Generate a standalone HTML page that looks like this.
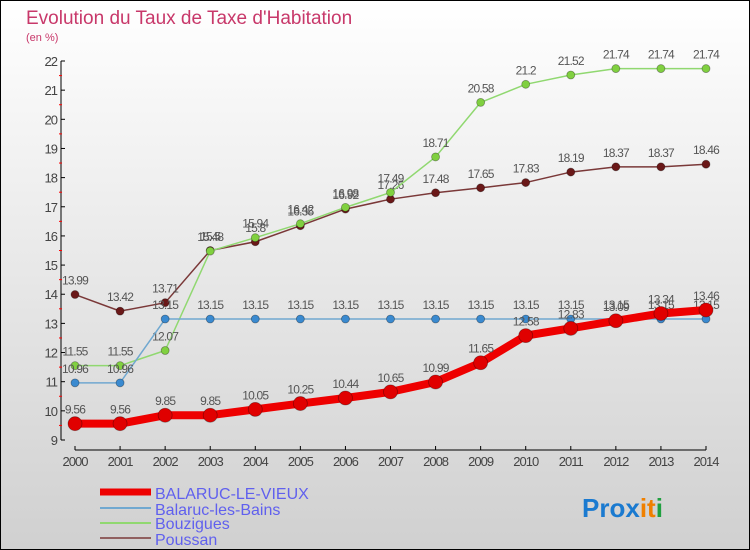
<!DOCTYPE html>
<html><head><meta charset="utf-8"><style>
body{margin:0;width:750px;height:550px;overflow:hidden}
svg{display:block;font-family:"Liberation Sans",sans-serif}
</style></head><body>
<svg width="750" height="550">
<defs><linearGradient id="bg" x1="0" y1="0" x2="0" y2="1"><stop offset="0" stop-color="#ffffff"/><stop offset="1" stop-color="#d0d0d0"/></linearGradient></defs>
<rect x="0.5" y="0.5" width="749" height="549" fill="url(#bg)" stroke="#000"/>
<text x="26" y="24" font-size="19" fill="#c8386a" font-weight="300">Evolution du Taux de Taxe d'Habitation</text>
<text x="26" y="41" font-size="11" fill="#c8386a">(en %)</text>
<g id="axes"></g><g id="series"></g>
<g>
<line x1="100" y1="492" x2="151" y2="492" stroke="#ee0000" stroke-width="7"/>
<text x="155" y="499" font-size="16" fill="#6060ee">BALARUC-LE-VIEUX</text>
<line x1="100" y1="508" x2="151" y2="508" stroke="#70a8d0" stroke-width="2"/>
<text x="155" y="515" font-size="16" fill="#6060ee">Balaruc-les-Bains</text>
<line x1="100" y1="523" x2="151" y2="523" stroke="#90d870" stroke-width="2"/>
<text x="155" y="529" font-size="16" fill="#6060ee">Bouzigues</text>
<line x1="100" y1="538" x2="151" y2="538" stroke="#906060" stroke-width="2"/>
<text x="155" y="545" font-size="16" fill="#6060ee">Poussan</text>
</g>
<g font-size="26" font-weight="bold">
<text x="582" y="517"><tspan fill="#1a7ad0">Pro</tspan><tspan fill="#1a7ad0">x</tspan><tspan fill="#f08000">i</tspan><tspan fill="#f08000">t</tspan><tspan fill="#20a040">i</tspan></text>
</g>
</svg>
<script>
const years=[2000,2001,2002,2003,2004,2005,2006,2007,2008,2009,2010,2011,2012,2013,2014];
const yTicks=[9,10,11,12,13,14,15,16,17,18,19,20,21,22];
const balarucVieux=[9.56,9.56,9.85,9.85,10.05,10.25,10.44,10.65,10.99,11.65,12.58,12.83,13.09,13.34,13.46];
const balarucBains=[10.96,10.96,13.15,13.15,13.15,13.15,13.15,13.15,13.15,13.15,13.15,13.15,13.15,13.15,13.15];
const bouzigues=[11.55,11.55,12.07,15.48,15.94,16.42,16.98,17.49,18.71,20.58,21.2,21.52,21.74,21.74,21.74];
const poussan=[13.99,13.42,13.71,15.5,15.8,16.35,16.92,17.26,17.48,17.65,17.83,18.19,18.37,18.37,18.46];
const NS="http://www.w3.org/2000/svg";
const xs=i=>75+i*(706-75)/(years.length-1);
const ys=v=>440-(v-9)*(440-61)/13;
function mk(t,a,p){const e=document.createElementNS(NS,t);for(const k in a)e.setAttribute(k,a[k]);p.appendChild(e);return e;}
const ax=document.getElementById('axes');
const yl=mk('line',{x1:61,y1:61,x2:61,y2:440,stroke:'#000'},ax);


yTicks.forEach(v=>{
 mk('line',{x1:61,x2:65,y1:ys(v),y2:ys(v),stroke:'#000'},ax);
 if(v<22)mk('line',{x1:59,x2:62,y1:ys(v+0.5),y2:ys(v+0.5),stroke:'#f00'},ax);
 const t=mk('text',{x:57,y:ys(v)+5,'text-anchor':'end','font-size':13,fill:'#444','letter-spacing':'-1'},ax);t.textContent=v;
 
 
});
const xl=mk('line',{x1:75,y1:450,x2:706,y2:450,stroke:'#000'},ax);


years.forEach((y,i)=>{
 mk('line',{x1:xs(i),x2:xs(i),y1:446,y2:450,stroke:'#000'},ax);
 const t=mk('text',{x:xs(i),y:466,'text-anchor':'middle','font-size':13,fill:'#444','letter-spacing':'-1'},ax);t.textContent=y;
 
 
});
const sg=document.getElementById('series');
function series(data,name,col,w,dotc,r){
 const g=mk('g',{},sg);
 
 
 mk('polyline',{points:data.map((v,i)=>xs(i)+','+ys(v)).join(' '),fill:'none',stroke:col,'stroke-width':w,'stroke-linejoin':'round'},g);
 data.forEach((v,i)=>{
  const c=mk('circle',{cx:xs(i),cy:ys(v),r:r,fill:dotc,stroke:'rgba(0,0,0,0.35)','stroke-width':0.8},g);
  
  
  const t=mk('text',{x:xs(i),y:ys(v)-10,'text-anchor':'middle','font-size':12,fill:'#555','letter-spacing':'-0.8'},g);t.textContent=v;
  
  
 });
}
series(poussan,'poussan-series','#7a3838',1.5,'#6a1818',4);
series(bouzigues,'bouzigues-series','#90d870',1.5,'#80d040',4);
series(balarucBains,'balaruc-les-bains-series','#70a8d0',1.5,'#3a8ad0',4);
series(balarucVieux,'balaruc-le-vieux-series','#ee0000',8,'#e00000',7);
</script>
</body></html>
